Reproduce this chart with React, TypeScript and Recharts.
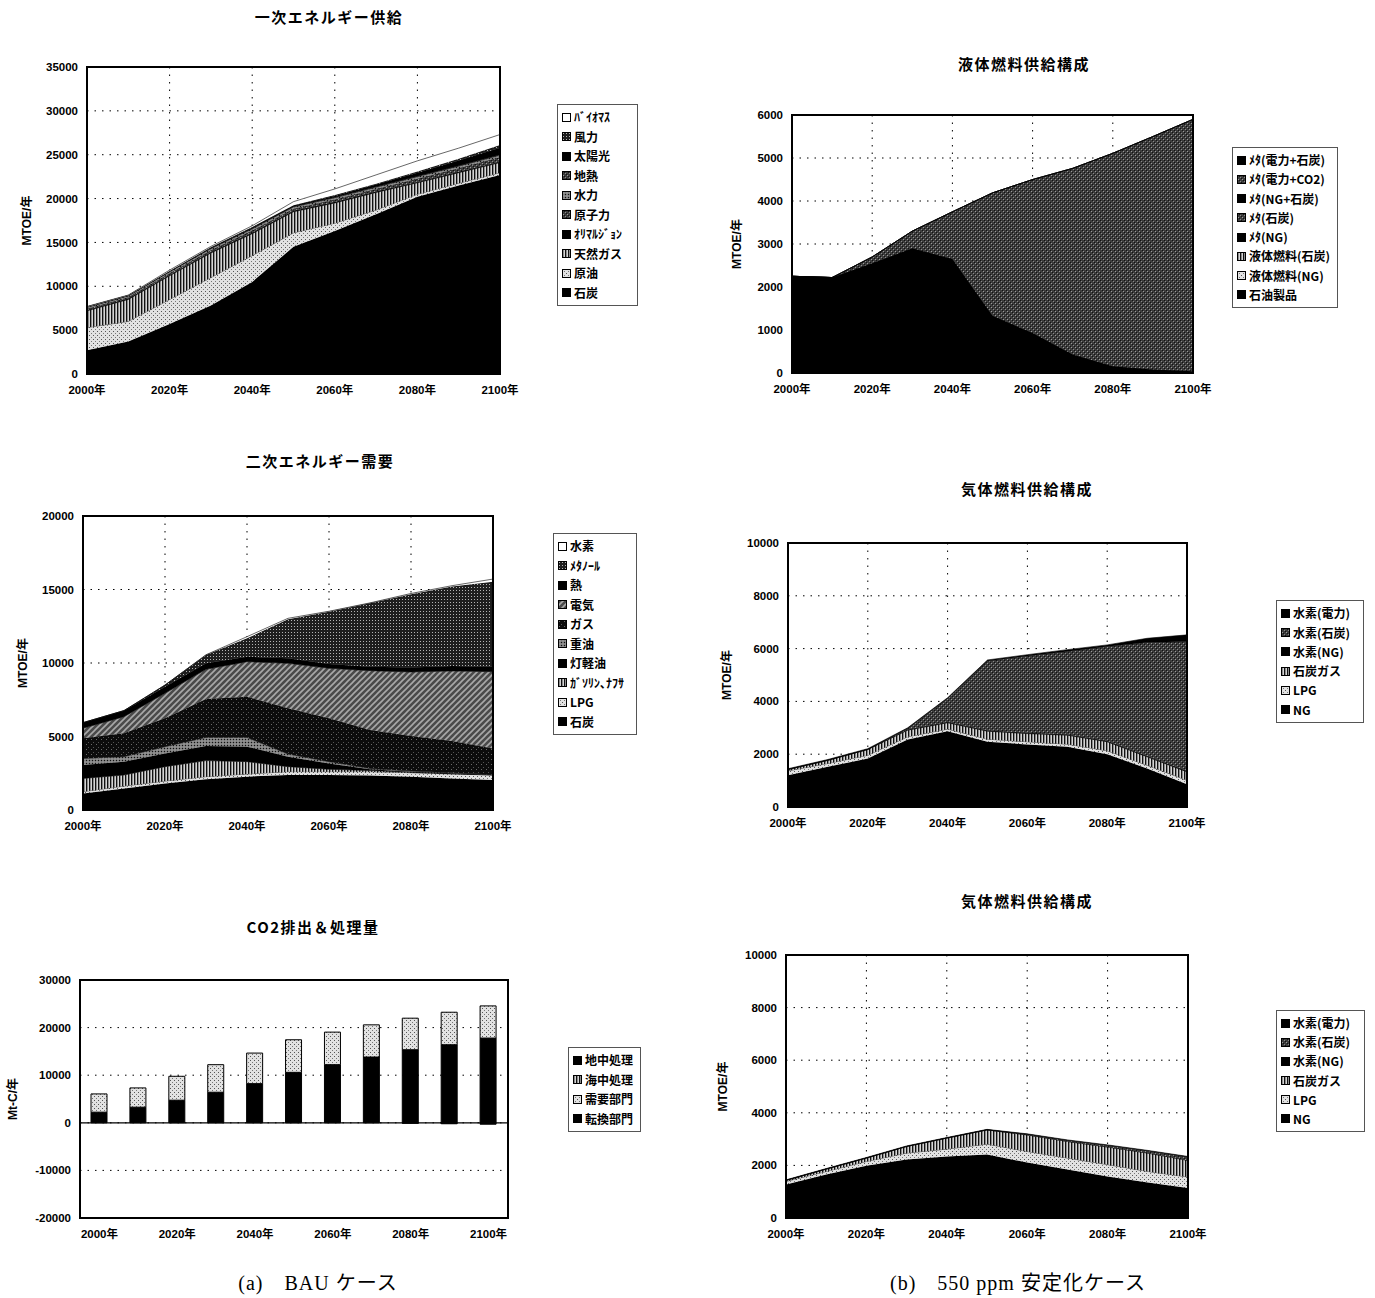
import React from 'react'
import {
  AreaChart,
  Area,
  BarChart,
  Bar,
  XAxis,
  YAxis,
  CartesianGrid,
  ReferenceLine,
} from 'recharts'

const years = [2000, 2010, 2020, 2030, 2040, 2050, 2060, 2070, 2080, 2090, 2100]
const xTicks = [2000, 2020, 2040, 2060, 2080, 2100]

// 一次エネルギー供給
const peCoal = [2700, 3700, 5700, 7800, 10500, 14500, 16300, 18200, 20200, 21500, 22700]
const peOil = [2600, 2300, 2800, 3200, 3000, 1600, 900, 500, 300, 250, 250]
const peGas = [1900, 2500, 2700, 2800, 2500, 2400, 2300, 2000, 1300, 1200, 1150]
const peOrimulsion = [100, 100, 100, 100, 100, 100, 100, 100, 100, 100, 100]
const peNuclear = [150, 150, 200, 200, 250, 250, 300, 300, 350, 400, 500]
const peHydro = [150, 150, 150, 200, 200, 200, 200, 200, 250, 250, 250]
const peGeo = [50, 50, 50, 50, 50, 50, 50, 50, 50, 50, 50]
const peSolar = [0, 0, 0, 50, 100, 100, 150, 250, 400, 600, 800]
const peWind = [0, 0, 50, 50, 50, 50, 100, 100, 150, 200, 300]
const peBiomass = [50, 50, 100, 100, 150, 400, 700, 1000, 1200, 1200, 1200]

// 液体燃料供給構成
const lqOilProd = [2250, 2220, 2550, 2900, 2650, 1330, 930, 430, 155, 80, 40]
const lqNG = [0, 0, 0, 0, 0, 0, 0, 0, 0, 0, 0]
const lqCoal = [0, 0, 0, 0, 0, 0, 0, 0, 0, 0, 0]
const lqMetaNG = [0, 0, 0, 0, 0, 0, 0, 0, 0, 0, 0]
const lqMetaCoal = [0, 0, 150, 400, 1100, 2860, 3570, 4330, 4955, 5420, 5860]
const lqMetaNGCoal = [0, 0, 0, 0, 0, 0, 0, 0, 0, 0, 0]
const lqMetaElecCO2 = [0, 0, 0, 0, 0, 0, 0, 0, 0, 0, 0]
const lqMetaElecCoal = [0, 0, 0, 0, 0, 0, 0, 0, 0, 0, 0]

// 二次エネルギー需要
const seCoal = [1130, 1470, 1810, 2090, 2270, 2380, 2380, 2340, 2270, 2150, 2040]
const seLPG = [120, 160, 160, 180, 180, 230, 230, 270, 270, 300, 340]
const seGasoline = [900, 750, 980, 1090, 840, 340, 160, 70, 30, 20, 0]
const seKerosene = [910, 910, 900, 990, 1020, 680, 400, 90, 40, 30, 20]
const seHeavy = [450, 340, 460, 590, 630, 180, 120, 60, 40, 30, 20]
const seGas = [1370, 1590, 1930, 2610, 2770, 3110, 2950, 2610, 2390, 2170, 1770]
const seElec = [680, 1130, 1700, 2020, 2380, 3060, 3400, 4040, 4350, 4760, 5220]
const seHeat = [380, 410, 450, 410, 340, 340, 290, 270, 300, 340, 340]
const seMethanol = [0, 0, 110, 560, 1250, 2650, 3560, 4310, 4990, 5400, 5780]
const seHydrogen = [0, 0, 0, 20, 110, 70, 30, 30, 50, 60, 180]

// 気体燃料供給構成 (上)
const g1NG = [1200, 1520, 1840, 2560, 2870, 2470, 2370, 2280, 2000, 1460, 860]
const g1LPG = [170, 130, 120, 100, 80, 100, 100, 100, 130, 120, 150]
const g1CoalGas = [50, 120, 220, 250, 240, 300, 310, 340, 340, 320, 320]
const g1H2NG = [0, 0, 0, 30, 30, 30, 30, 30, 30, 30, 30]
const g1H2Coal = [0, 0, 0, 30, 890, 2630, 2910, 3140, 3580, 4300, 4910]
const g1H2Elec = [30, 30, 30, 30, 30, 40, 50, 70, 60, 160, 250]

// 気体燃料供給構成 (下)
const g2NG = [1270, 1650, 1990, 2220, 2340, 2410, 2110, 1840, 1580, 1350, 1140]
const g2LPG = [120, 120, 160, 250, 280, 400, 420, 440, 450, 420, 420]
const g2CoalGas = [40, 90, 130, 250, 420, 540, 630, 630, 670, 700, 630]
const g2H2NG = [0, 0, 0, 0, 0, 0, 0, 0, 0, 0, 0]
const g2H2Coal = [0, 0, 0, 0, 0, 0, 20, 40, 60, 80, 130]
const g2H2Elec = [20, 20, 20, 20, 20, 20, 20, 20, 20, 20, 20]

// CO2排出＆処理量
const co2Conv = [2230, 3280, 4750, 6420, 8230, 10600, 12210, 13820, 15350, 16400, 17800]
const co2Demand = [3840, 4050, 5020, 5790, 6420, 6850, 6840, 6760, 6630, 6830, 6760]
const co2Ocean = [0, 0, 0, 0, 0, 0, 0, 0, 0, 0, 0]
const co2Ground = [0, 0, 0, 0, 0, 0, 0, 0, -100, -200, -300]

type Series = { key: string; name: string; fill: string; values: number[] }
type Box = { l: number; t: number; r: number; b: number }

const BLACK = '#000'
const LIGHT = 'url(#pLight)'
const STRIPE = 'url(#pStripe)'
const DARK = 'url(#pDark)'
const MID = 'url(#pMid)'
const DIAG = 'url(#pDiag)'
const GRID = 'url(#pGrid)'
const SPECK = 'url(#pSpeck)'

const primarySeries: Series[] = [
  { key: 'coal', name: '石炭', fill: BLACK, values: peCoal },
  { key: 'oil', name: '原油', fill: LIGHT, values: peOil },
  { key: 'gas', name: '天然ガス', fill: STRIPE, values: peGas },
  { key: 'ori', name: 'ｵﾘﾏﾙｼﾞｮﾝ', fill: BLACK, values: peOrimulsion },
  { key: 'nuc', name: '原子力', fill: DARK, values: peNuclear },
  { key: 'hyd', name: '水力', fill: MID, values: peHydro },
  { key: 'geo', name: '地熱', fill: DARK, values: peGeo },
  { key: 'sol', name: '太陽光', fill: BLACK, values: peSolar },
  { key: 'wind', name: '風力', fill: GRID, values: peWind },
  { key: 'bio', name: 'ﾊﾞｲｵﾏｽ', fill: '#fff', values: peBiomass },
]

const liquidSeries: Series[] = [
  { key: 'oilp', name: '石油製品', fill: BLACK, values: lqOilProd },
  { key: 'lng', name: '液体燃料(NG)', fill: LIGHT, values: lqNG },
  { key: 'lcoal', name: '液体燃料(石炭)', fill: STRIPE, values: lqCoal },
  { key: 'mng', name: 'ﾒﾀ(NG)', fill: BLACK, values: lqMetaNG },
  { key: 'mcoal', name: 'ﾒﾀ(石炭)', fill: DARK, values: lqMetaCoal },
  { key: 'mngc', name: 'ﾒﾀ(NG+石炭)', fill: BLACK, values: lqMetaNGCoal },
  { key: 'mec', name: 'ﾒﾀ(電力+CO2)', fill: DARK, values: lqMetaElecCO2 },
  { key: 'mecoal', name: 'ﾒﾀ(電力+石炭)', fill: BLACK, values: lqMetaElecCoal },
]

const secondarySeries: Series[] = [
  { key: 'coal', name: '石炭', fill: BLACK, values: seCoal },
  { key: 'lpg', name: 'LPG', fill: LIGHT, values: seLPG },
  { key: 'gasl', name: 'ｶﾞｿﾘﾝ､ﾅﾌｻ', fill: STRIPE, values: seGasoline },
  { key: 'kero', name: '灯軽油', fill: BLACK, values: seKerosene },
  { key: 'heavy', name: '重油', fill: MID, values: seHeavy },
  { key: 'gas', name: 'ガス', fill: SPECK, values: seGas },
  { key: 'elec', name: '電気', fill: DIAG, values: seElec },
  { key: 'heat', name: '熱', fill: BLACK, values: seHeat },
  { key: 'meth', name: 'ﾒﾀﾉｰﾙ', fill: GRID, values: seMethanol },
  { key: 'h2', name: '水素', fill: '#fff', values: seHydrogen },
]

const gas1Series: Series[] = [
  { key: 'ng', name: 'NG', fill: BLACK, values: g1NG },
  { key: 'lpg', name: 'LPG', fill: LIGHT, values: g1LPG },
  { key: 'cg', name: '石炭ガス', fill: STRIPE, values: g1CoalGas },
  { key: 'hng', name: '水素(NG)', fill: BLACK, values: g1H2NG },
  { key: 'hcoal', name: '水素(石炭)', fill: DARK, values: g1H2Coal },
  { key: 'helec', name: '水素(電力)', fill: BLACK, values: g1H2Elec },
]

const gas2Series: Series[] = [
  { key: 'ng', name: 'NG', fill: BLACK, values: g2NG },
  { key: 'lpg', name: 'LPG', fill: LIGHT, values: g2LPG },
  { key: 'cg', name: '石炭ガス', fill: STRIPE, values: g2CoalGas },
  { key: 'hng', name: '水素(NG)', fill: BLACK, values: g2H2NG },
  { key: 'hcoal', name: '水素(石炭)', fill: DARK, values: g2H2Coal },
  { key: 'helec', name: '水素(電力)', fill: BLACK, values: g2H2Elec },
]

const co2Series: Series[] = [
  { key: 'conv', name: '転換部門', fill: BLACK, values: co2Conv },
  { key: 'dem', name: '需要部門', fill: LIGHT, values: co2Demand },
  { key: 'ocean', name: '海中処理', fill: STRIPE, values: co2Ocean },
  { key: 'ground', name: '地中処理', fill: BLACK, values: co2Ground },
]

const NUM_FONT = "'Liberation Sans', Arial, 'Noto Sans CJK JP', sans-serif"
const JP_FONT = "'Noto Sans CJK JP', 'Liberation Sans', sans-serif"
const tickStyle = { fill: '#000', fontSize: 11.5, fontWeight: 700, fontFamily: NUM_FONT }
const axisStroke = { stroke: '#000', strokeWidth: 2 }

const YW = 78
const MT = 8
const MR = 30
const XH = 26

const buildRows = (series: Series[]) =>
  years.map((year, i) => {
    const row: Record<string, number> = { year }
    series.forEach((s) => {
      row[s.key] = s.values[i]
    })
    return row
  })

const yLabel = (text: string, box: Box, labelX: number) => ({
  value: text,
  angle: -90,
  position: 'insideLeft' as const,
  offset: labelX - (box.l - YW),
  style: { textAnchor: 'middle', fontSize: 12, fontWeight: 700, fontFamily: NUM_FONT, fill: '#000' },
})

// plot frame, drawn on the same box that positions the chart
function Frame(props: { box: Box }) {
  const { box } = props
  return (
    <div
      style={{
        position: 'absolute',
        left: YW - 1,
        top: MT - 1,
        width: box.r - box.l + 2,
        height: box.b - box.t + 2,
        border: '2px solid #000',
        boxSizing: 'border-box',
        pointerEvents: 'none',
      }}
    />
  )
}

function StackArea(props: {
  box: Box
  yMax: number
  yTicks: number[]
  labelX: number
  series: Series[]
}) {
  const { box, yMax, yTicks, labelX, series } = props
  return (
    <div style={{ position: 'absolute', left: box.l - YW, top: box.t - MT }}>
      <AreaChart
        width={box.r - box.l + YW + MR}
        height={box.b - box.t + MT + XH}
        data={buildRows(series)}
        margin={{ top: MT, right: MR, left: 0, bottom: 0 }}
      >
        <CartesianGrid stroke="#000" strokeDasharray="1.5 6" />
        {series.map((s) => (
          <Area
            key={s.key}
            dataKey={s.key}
            name={s.name}
            stackId="1"
            type="linear"
            fill={s.fill}
            fillOpacity={1}
            stroke="#000"
            strokeWidth={0.6}
            dot={false}
            activeDot={false}
            isAnimationActive={false}
          />
        ))}
        <XAxis
          dataKey="year"
          type="number"
          domain={[2000, 2100]}
          ticks={xTicks}
          interval={0}
          tickFormatter={(v) => `${v}年`}
          height={XH}
          tickSize={0}
          tickMargin={12}
          tick={tickStyle}
          axisLine={axisStroke}
        />
        <YAxis
          width={YW}
          type="number"
          domain={[0, yMax]}
          ticks={yTicks}
          interval={0}
          tickSize={0}
          tickMargin={9}
          tick={tickStyle}
          axisLine={axisStroke}
          label={yLabel('MTOE/年', box, labelX)}
        />
      </AreaChart>
      <Frame box={box} />
    </div>
  )
}

function Co2Bars(props: { box: Box; labelX: number }) {
  const { box, labelX } = props
  return (
    <div style={{ position: 'absolute', left: box.l - YW, top: box.t - MT }}>
      <BarChart
        width={box.r - box.l + YW + MR}
        height={box.b - box.t + MT + XH}
        data={buildRows(co2Series)}
        margin={{ top: MT, right: MR, left: 0, bottom: 0 }}
        stackOffset="sign"
        barSize={16}
      >
        <CartesianGrid vertical={false} stroke="#000" strokeDasharray="1.5 6" />
        {co2Series.map((s) => (
          <Bar
            key={s.key}
            dataKey={s.key}
            name={s.name}
            stackId="a"
            fill={s.fill}
            stroke="#000"
            strokeWidth={1}
            isAnimationActive={false}
          />
        ))}
        <ReferenceLine y={0} stroke="#000" strokeWidth={1.2} />
        <XAxis
          dataKey="year"
          interval={1}
          tickFormatter={(v) => `${v}年`}
          height={XH}
          tickSize={0}
          tickMargin={12}
          tick={tickStyle}
          axisLine={axisStroke}
        />
        <YAxis
          width={YW}
          type="number"
          domain={[-20000, 30000]}
          ticks={[-20000, -10000, 0, 10000, 20000, 30000]}
          interval={0}
          tickSize={0}
          tickMargin={9}
          tick={tickStyle}
          axisLine={axisStroke}
          label={yLabel('Mt-C/年', box, labelX)}
        />
      </BarChart>
      <Frame box={box} />
    </div>
  )
}

function LegendBox(props: { x: number; y: number; w: number; h: number; series: Series[] }) {
  const { x, y, w, h, series } = props
  const items = [...series].reverse()
  return (
    <div
      style={{
        position: 'absolute',
        left: x,
        top: y,
        width: w,
        height: h,
        boxSizing: 'border-box',
        border: '1px solid #555',
        display: 'flex',
        flexDirection: 'column',
        justifyContent: 'space-evenly',
        paddingLeft: 4,
        fontFamily: JP_FONT,
        fontSize: 12,
        fontWeight: 700,
        color: '#000',
        background: '#fff',
      }}
    >
      {items.map((s) => (
        <div key={s.key} style={{ display: 'flex', alignItems: 'center', lineHeight: '14px', whiteSpace: 'nowrap' }}>
          <svg width={9} height={9} style={{ marginRight: 3, flex: 'none' }}>
            <rect x={0.5} y={0.5} width={8} height={8} fill={s.fill} stroke="#000" strokeWidth={1} />
          </svg>
          <span>{s.name}</span>
        </div>
      ))}
    </div>
  )
}

function Title(props: { x: number; y: number; text: string }) {
  return (
    <div
      style={{
        position: 'absolute',
        left: props.x,
        top: props.y - 11,
        transform: 'translateX(-50%)',
        fontFamily: JP_FONT,
        fontWeight: 700,
        fontSize: 15,
        letterSpacing: 1.5,
        whiteSpace: 'nowrap',
        lineHeight: '22px',
      }}
    >
      {props.text}
    </div>
  )
}

function Patterns() {
  return (
    <svg width={0} height={0} style={{ position: 'absolute' }}>
      <defs>
        <pattern id="pLight" width={4} height={4} patternUnits="userSpaceOnUse">
          <rect width={4} height={4} fill="#e2e2e2" />
          <rect x={0} y={0} width={1} height={1} fill="#555" />
          <rect x={2} y={2} width={1} height={1} fill="#777" />
        </pattern>
        <pattern id="pStripe" width={3} height={3} patternUnits="userSpaceOnUse">
          <rect width={3} height={3} fill="#8c8c8c" />
          <rect x={0} y={0} width={1} height={3} fill="#111" />
          <rect x={2} y={0} width={0.8} height={3} fill="#e8e8e8" />
        </pattern>
        <pattern id="pDark" width={4} height={4} patternUnits="userSpaceOnUse">
          <rect width={4} height={4} fill="#3c3c3c" />
          <rect x={1} y={0} width={1} height={1} fill="#9a9a9a" />
          <rect x={3} y={2} width={1} height={1} fill="#8a8a8a" />
          <rect x={0} y={3} width={1} height={1} fill="#111" />
          <rect x={2} y={1} width={1} height={1} fill="#111" />
        </pattern>
        <pattern id="pMid" width={3} height={3} patternUnits="userSpaceOnUse">
          <rect width={3} height={3} fill="#7a7a7a" />
          <rect x={0} y={0} width={1} height={1} fill="#111" />
          <rect x={1.5} y={1.5} width={1} height={1} fill="#ccc" />
        </pattern>
        <pattern id="pDiag" width={6} height={6} patternUnits="userSpaceOnUse">
          <rect width={6} height={6} fill="#4a4a4a" />
          <path d="M0,6 L6,0 M-1,1 L1,-1 M5,7 L7,5" stroke="#a8a8a8" strokeWidth={1.6} />
        </pattern>
        <pattern id="pGrid" width={3} height={3} patternUnits="userSpaceOnUse">
          <rect width={3} height={3} fill="#1e1e1e" />
          <rect x={1} y={1} width={1} height={1} fill="#b4b4b4" />
        </pattern>
        <pattern id="pSpeck" width={5} height={5} patternUnits="userSpaceOnUse">
          <rect width={5} height={5} fill="#0c0c0c" />
          <rect x={1} y={1} width={1} height={1} fill="#6a6a6a" />
          <rect x={3} y={4} width={1} height={1} fill="#555" />
        </pattern>
      </defs>
    </svg>
  )
}

const captionStyle: React.CSSProperties = {
  position: 'absolute',
  top: 1270,
  transform: 'translateX(-50%)',
  fontFamily: "'Liberation Serif', 'Times New Roman', 'Noto Sans CJK JP', serif",
  fontSize: 20,
  letterSpacing: 1,
  whiteSpace: 'nowrap',
  lineHeight: '26px',
}

export default function App() {
  return (
    <div style={{ position: 'relative', width: 1375, height: 1298, background: '#fff', overflow: 'hidden' }}>
      <style>{'body{margin:0}'}</style>
      <Patterns />

      <Title x={329} y={17} text="一次エネルギー供給" />
      <StackArea
        box={{ l: 87, t: 67, r: 500, b: 374 }}
        yMax={35000}
        yTicks={[0, 5000, 10000, 15000, 20000, 25000, 30000, 35000]}
        labelX={27}
        series={primarySeries}
      />
      <LegendBox x={557} y={104} w={81} h={202} series={primarySeries} />

      <Title x={1024} y={64} text="液体燃料供給構成" />
      <StackArea
        box={{ l: 792, t: 115, r: 1193, b: 373 }}
        yMax={6000}
        yTicks={[0, 1000, 2000, 3000, 4000, 5000, 6000]}
        labelX={737}
        series={liquidSeries}
      />
      <LegendBox x={1232} y={147} w={106} h={161} series={liquidSeries} />

      <Title x={320} y={461} text="二次エネルギー需要" />
      <StackArea
        box={{ l: 83, t: 516, r: 493, b: 810 }}
        yMax={20000}
        yTicks={[0, 5000, 10000, 15000, 20000]}
        labelX={23}
        series={secondarySeries}
      />
      <LegendBox x={553} y={533} w={84} h={202} series={secondarySeries} />

      <Title x={1027} y={489} text="気体燃料供給構成" />
      <StackArea
        box={{ l: 788, t: 543, r: 1187, b: 807 }}
        yMax={10000}
        yTicks={[0, 2000, 4000, 6000, 8000, 10000]}
        labelX={727}
        series={gas1Series}
      />
      <LegendBox x={1276} y={600} w={88} h={123} series={gas1Series} />

      <Title x={313} y={927} text="CO2排出＆処理量" />
      <Co2Bars box={{ l: 80, t: 980, r: 508, b: 1218 }} labelX={13} />
      <LegendBox x={568} y={1047} w={73} h={85} series={co2Series} />

      <Title x={1027} y={901} text="気体燃料供給構成" />
      <StackArea
        box={{ l: 786, t: 955, r: 1188, b: 1218 }}
        yMax={10000}
        yTicks={[0, 2000, 4000, 6000, 8000, 10000]}
        labelX={723}
        series={gas2Series}
      />
      <LegendBox x={1276} y={1010} w={89} h={122} series={gas2Series} />

      <div style={{ ...captionStyle, left: 318 }}>(a)　BAU ケース</div>
      <div style={{ ...captionStyle, left: 1018 }}>(b)　550 ppm 安定化ケース</div>
    </div>
  )
}
